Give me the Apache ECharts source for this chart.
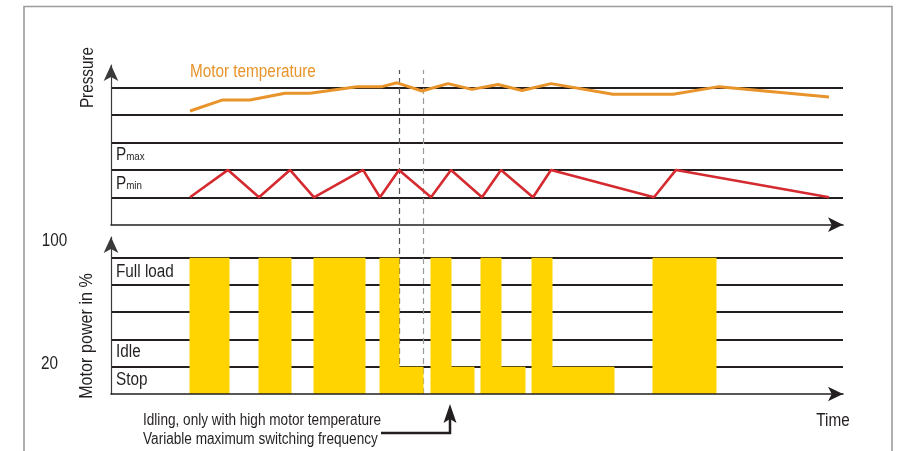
<!DOCTYPE html>
<html>
<head>
<meta charset="utf-8">
<script src="https://cdn.jsdelivr.net/npm/echarts@6/dist/echarts.min.js"></script>
<style>
html,body{margin:0;padding:0;background:#fff;}
#chart{width:903px;height:451px;}
</style>
</head>
<body>
<div id="chart"></div>
<script>
// ---- data (time in arbitrary units along the time axis) ----
const timeMax = 732;
const pressureTime  = [79, 117, 148, 179, 203, 252, 269, 288, 320, 340, 371, 390, 422, 440, 543, 565, 718];
const pressureLevel = [1, 2, 1, 2, 1, 2, 1, 2, 1, 2, 1, 2, 1, 2, 1, 2, 1];
const tempTime  = [79, 111, 139, 174, 199, 246, 271, 286, 311, 337, 361, 387, 411, 440, 502, 562, 608, 718];
const tempLevel = [4.15, 4.55, 4.55, 4.8, 4.8, 5.04, 5.04, 5.18, 4.88, 5.15, 4.94, 5.12, 4.9, 5.15, 4.76, 4.76, 5.04, 4.66];
const fullLoadStart = [79, 148, 203, 269, 320, 370, 421, 542];
const fullLoadEnd   = [118, 180, 254, 288, 340, 390, 441, 605];
const idleStart = [288, 340, 390, 441];
const idleEnd   = [312, 363, 414, 503];
const fullLevel = 5;
const idleLevel = 1;
const pressureLines = [1, 2, 3, 4, 5];
const powerLines = [1, 2, 3, 4, 5];
const dashTimes = [288, 312];
const dashColors = ['#555555', '#9a9a9a'];

const FONT = "'Liberation Sans',Arial,sans-serif";
const NARROW = 0.85;
const BLACK = '#231f20';

const pressureData = pressureTime.map((t, i) => [t, pressureLevel[i]]);
const tempData = tempTime.map((t, i) => [t, tempLevel[i]]);
const powerBlocks = [];
fullLoadStart.forEach((s, i) => powerBlocks.push([s, fullLoadEnd[i], fullLevel]));
idleStart.forEach((s, i) => powerBlocks.push([s, idleEnd[i], idleLevel]));

const chart = echarts.init(document.getElementById('chart'), null, {renderer: 'canvas'});

function axisX(gi, show) {
  return {
    type: 'value', gridIndex: gi, min: 0, max: timeMax, show: show, z: 5,
    axisLine: {show: true, symbol: ['none', 'arrow'], symbolSize: [11, 15],
      lineStyle: {color: BLACK, width: 1.6}},
    axisTick: {show: false}, axisLabel: {show: false}, splitLine: {show: false}
  };
}
function axisY(gi, max, show) {
  return {
    type: 'value', gridIndex: gi, min: 0, max: max, show: show, z: 5,
    axisLine: {show: true, onZero: false, symbol: ['none', 'arrow'], symbolSize: [11, 16],
      lineStyle: {color: '#3a3a3a', width: 1.2}},
    axisTick: {show: false}, axisLabel: {show: false}, splitLine: {show: false}
  };
}
function levelMarks(vals) {
  return {
    silent: true, z: 1, symbol: ['none', 'none'], label: {show: false},
    lineStyle: {color: BLACK, width: 1.8, type: 'solid'},
    emphasis: {disabled: true},
    data: vals.map(v => ({yAxis: v}))
  };
}
function txt(text, x, y, size, opts) {
  opts = opts || {};
  return Object.assign({
    type: 'text', x: x, y: y, scaleX: NARROW, silent: true,
    style: Object.assign({text: text, x: 0, y: 0, font: size + 'px ' + FONT, fill: BLACK,
      textAlign: 'left', textVerticalAlign: 'middle'}, opts.style || {})
  }, opts.el || {});
}
const subRich = {
  p: {fontSize: 18, fontFamily: FONT, fill: BLACK, verticalAlign: 'bottom'},
  s: {fontSize: 11.5, fontFamily: FONT, fill: BLACK, verticalAlign: 'bottom', padding: [0, 0, 1, 0]}
};

const option = {
  animation: false,
  backgroundColor: '#fff',
  grid: [
    {left: 111, right: 60, top: 65, height: 159.7},
    {left: 111, right: 60, top: 237, height: 157},
    {left: 111, right: 60, top: 70, height: 324}
  ],
  xAxis: [axisX(0, true), axisX(1, true), axisX(2, false)],
  yAxis: [axisY(0, 5.83, true), axisY(1, 5.76, true), axisY(2, 1, false)],
  series: [
    {type: 'line', xAxisIndex: 0, yAxisIndex: 0, data: [], z: 1, markLine: levelMarks(pressureLines)},
    {type: 'line', xAxisIndex: 1, yAxisIndex: 1, data: [], z: 1, markLine: levelMarks(powerLines)},
    {type: 'line', xAxisIndex: 2, yAxisIndex: 2, data: [], z: 1,
      markLine: {silent: true, z: 1, symbol: ['none', 'none'], label: {show: false},
        data: dashTimes.map((t, i) => ({xAxis: t, lineStyle: {color: dashColors[i], width: 1.2, type: [6, 4]}}))}},
    {type: 'custom', xAxisIndex: 1, yAxisIndex: 1, z: 3, data: powerBlocks,
      encode: {x: [0, 1], y: 2},
      renderItem: function (params, api) {
        const a = api.coord([api.value(0), 0]);
        const b = api.coord([api.value(1), api.value(2)]);
        return {type: 'rect', z2: 10,
          shape: {x: a[0] - 0.5, y: b[1], width: b[0] - a[0] + 1, height: a[1] - b[1]},
          style: {fill: '#FFD400'}};
      }},
    {type: 'line', xAxisIndex: 0, yAxisIndex: 0, z: 4, data: pressureData, symbol: 'none',
      lineStyle: {color: '#D42A30', width: 2.6}},
    {type: 'line', xAxisIndex: 0, yAxisIndex: 0, z: 4, data: tempData, symbol: 'none',
      lineStyle: {color: '#E8942A', width: 3}}
  ],
  graphic: [
    {type: 'rect', silent: true, shape: {x: 24, y: 6.5, width: 868, height: 470},
      style: {fill: 'none', stroke: '#9c9c9c', lineWidth: 1.6}},
    txt('Pressure', 88, 77.5, 18, {el: {rotation: Math.PI / 2}, style: {textAlign: 'center'}}),
    txt('Motor power in %', 87, 336, 19, {el: {rotation: Math.PI / 2}, style: {textAlign: 'center'}}),
    txt('Motor temperature', 190, 72, 18, {style: {fill: '#E8942A'}}),
    txt('{p|P}{s|max}', 116, 155, 18, {style: {rich: subRich}}),
    txt('{p|P}{s|min}', 116, 184, 18, {style: {rich: subRich}}),
    txt('Full load', 116, 272, 18),
    txt('Idle', 116, 352, 18),
    txt('Stop', 116, 380, 18),
    txt('100', 54.5, 241, 18, {style: {textAlign: 'center'}}),
    txt('20', 49.5, 364.5, 18, {style: {textAlign: 'center'}}),
    txt('Time', 833, 421, 18, {style: {textAlign: 'center'}}),
    txt('Idling, only with high motor temperature', 143, 421, 16),
    txt('Variable maximum switching frequency', 143, 440, 16),
    {type: 'polyline', silent: true, shape: {points: [[381, 433], [450, 433], [450, 418]]},
      style: {stroke: BLACK, lineWidth: 2.5, fill: 'none'}},
    {type: 'polygon', silent: true, shape: {points: [[450, 404], [456.5, 423], [450, 419], [443.5, 423]]},
      style: {fill: BLACK}}
  ]
};
chart.setOption(option);
</script>
</body>
</html>
